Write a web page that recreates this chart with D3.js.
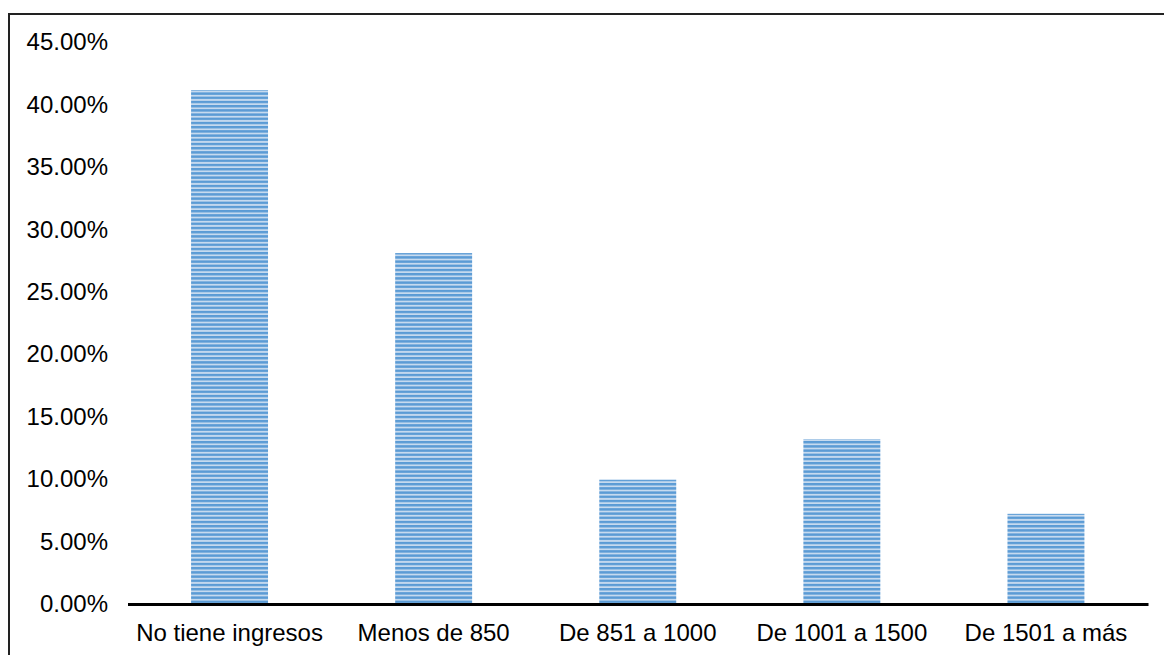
<!DOCTYPE html>
<html><head><meta charset="utf-8">
<script src="https://cdn.jsdelivr.net/npm/d3@7"></script>
<style>body{margin:0;background:#fff;}svg{display:block;}</style>
</head><body>
<script>
const categories = ["No tiene ingresos","Menos de 850","De 851 a 1000","De 1001 a 1500","De 1501 a más"];
const values = [0.4115, 0.2810, 0.0995, 0.1321, 0.0722];
const yTicks = [0,0.05,0.10,0.15,0.20,0.25,0.30,0.35,0.40,0.45];

const W=1164,H=655;
const svg=d3.select("body").append("svg").attr("width",W).attr("height",H);
const defs=svg.append("defs");
const pat=defs.append("pattern").attr("id","stripes").attr("patternUnits","userSpaceOnUse")
  .attr("width",8).attr("height",4.2);
pat.append("rect").attr("width",8).attr("height",4.2).attr("fill","#c6daef");
pat.append("rect").attr("y",0).attr("width",8).attr("height",2.4).attr("fill","#5b9bd5");

svg.append("rect").attr("x",9).attr("y",14).attr("width",1300).attr("height",800)
  .attr("fill","none").attr("stroke","#222").attr("stroke-width",2);

const x=d3.scaleBand().domain(categories).range([127.5,1148]).paddingInner(0.623).paddingOuter(0.3115);
const y=d3.scaleLinear().domain([0,0.45]).range([604,42]);

svg.append("g").selectAll("rect").data(values).join("rect")
  .attr("x",(d,i)=>x(categories[i])).attr("width",x.bandwidth())
  .attr("y",d=>y(d)).attr("height",d=>y(0)-y(d))
  .attr("fill","url(#stripes)");

const ya=svg.append("g").attr("transform","translate(108,0)")
  .call(d3.axisLeft(y).tickValues(yTicks).tickFormat(d3.format(".2%")).tickSize(0).tickPadding(0));
ya.select(".domain").remove();
ya.selectAll("text").attr("font-family","Liberation Sans, Arial, sans-serif").attr("font-size",24).attr("fill","#000");

const xa=svg.append("g").attr("transform","translate(0,604)")
  .call(d3.axisBottom(x).tickSize(0).tickPadding(20));
xa.select(".domain").attr("stroke","#000").attr("stroke-width",3);
xa.selectAll("text").attr("font-family","Liberation Sans, Arial, sans-serif").attr("font-size",24).attr("fill","#000");
</script>
</body></html>
